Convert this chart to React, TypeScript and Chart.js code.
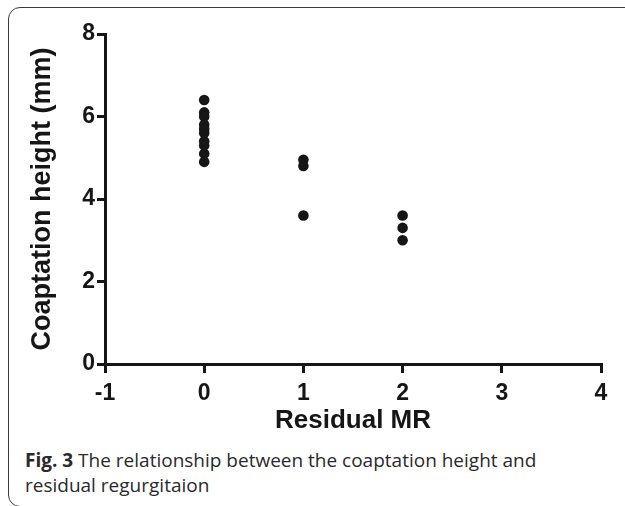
import React, { useEffect, useRef } from "react";
import { Chart, registerables } from "chart.js";

Chart.register(...registerables);

// Residual MR grade (x) and coaptation height in mm (y)
const residualMR: number[] = [0, 0, 0, 0, 0, 0, 0, 0, 0, 0, 1, 1, 1, 2, 2, 2];
const coaptationHeight: number[] = [6.4, 6.1, 6.0, 5.8, 5.7, 5.6, 5.4, 5.3, 5.1, 4.9, 4.95, 4.8, 3.6, 3.6, 3.3, 3.0];

const xTicks: number[] = [-1, 0, 1, 2, 3, 4];
const yTicks: number[] = [0, 2, 4, 6, 8];

const xTitle = "Residual MR";
const yTitle = "Coaptation height (mm)";

const INK = "#161616";

export default function App() {
  const ref = useRef<HTMLCanvasElement | null>(null);

  useEffect(() => {
    if (!ref.current) return;
    const points = residualMR.map((x, i) => ({ x, y: coaptationHeight[i] }));
    const tickFont = { family: "'Liberation Sans', Arial, sans-serif", weight: "bold" as const, size: 23 };
    const chart = new Chart(ref.current, {
      type: "scatter",
      data: {
        datasets: [
          {
            data: points,
            backgroundColor: INK,
            borderColor: INK,
            pointRadius: 5.3,
            pointHoverRadius: 5.3,
            borderWidth: 0,
          },
        ],
      },
      options: {
        responsive: false,
        animation: false,
        layout: { padding: { left: 0, right: 24, top: 34, bottom: 0 } },
        plugins: { legend: { display: false }, tooltip: { enabled: false } },
        scales: {
          x: {
            type: "linear",
            min: xTicks[0],
            max: xTicks[xTicks.length - 1],
            afterBuildTicks: (s: any) => {
              s.ticks = xTicks.map((v) => ({ value: v }));
            },
            afterFit: (s: any) => {
              s.height = 76;
            },
            grid: {
              drawOnChartArea: false,
              drawTicks: true,
              lineWidth: 3,
              color: INK,
              tickLength: 9,
              tickWidth: 3,
              tickColor: INK,
            },
            border: { display: true, color: INK, width: 3 },
            ticks: {
              color: INK,
              font: tickFont,
              padding: 7,
              maxRotation: 0,
              autoSkip: false,
            },
            title: {
              display: true,
              text: xTitle,
              color: INK,
              font: { family: "'Liberation Sans', Arial, sans-serif", weight: "bold", size: 26 },
              padding: { top: 0, bottom: 4 },
            },
          },
          y: {
            type: "linear",
            min: yTicks[0],
            max: yTicks[yTicks.length - 1],
            afterBuildTicks: (s: any) => {
              s.ticks = yTicks.map((v) => ({ value: v }));
            },
            afterFit: (s: any) => {
              s.width = 105;
            },
            grid: {
              drawOnChartArea: false,
              drawTicks: true,
              lineWidth: 3,
              color: INK,
              tickLength: 8,
              tickWidth: 3,
              tickColor: INK,
            },
            border: { display: true, color: INK, width: 3 },
            ticks: {
              color: INK,
              font: tickFont,
              padding: 2,
              autoSkip: false,
            },
            title: {
              display: true,
              text: yTitle,
              color: INK,
              font: { family: "'Liberation Sans', Arial, sans-serif", weight: "bold", size: 27 },
              padding: { top: 26, bottom: 0 },
            },
          },
        },
      },
    });
    return () => chart.destroy();
  }, []);

  return (
    <div
      style={{
        position: "fixed",
        left: 0,
        top: 0,
        width: 625,
        height: 506,
        overflow: "hidden",
        background: "#fff",
      }}
    >
      <div
        style={{
          position: "absolute",
          left: 8,
          top: 7,
          width: 680,
          height: 500,
          border: "1.5px solid #3a3a3a",
          borderRadius: 12,
          boxSizing: "border-box",
        }}
      />
      <canvas
        ref={ref}
        width={625}
        height={440}
        style={{ position: "absolute", left: 0, top: 0, width: 625, height: 440 }}
      />
      <div
        style={{
          position: "absolute",
          left: 25,
          top: 448,
          fontFamily: "'Open Sans', 'Noto Sans', sans-serif",
          fontSize: 19,
          lineHeight: "25px",
          color: "#2a2a2a",
          whiteSpace: "nowrap",
        }}
      >
        <b style={{ fontWeight: 700 }}>Fig. 3</b> The relationship between the coaptation height and
        <br />
        residual regurgitaion
      </div>
    </div>
  );
}
